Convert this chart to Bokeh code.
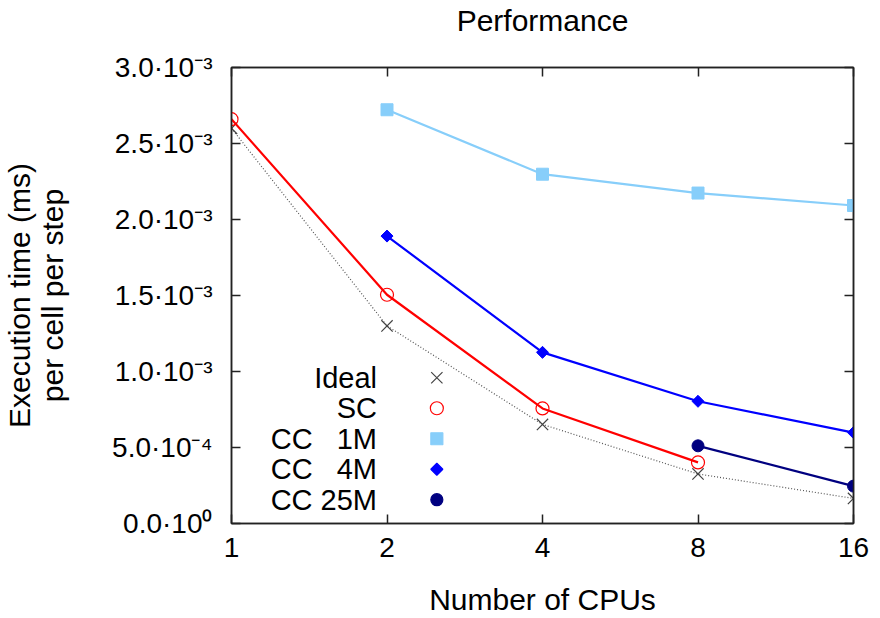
import math
from bokeh.plotting import figure
from bokeh.models import (FixedTicker, CustomJSTickFormatter, LinearAxis, LogAxis,
                          Range1d, LinearScale, ColumnDataSource)
from bokeh.embed import file_html
from bokeh.resources import INLINE

# ---------------- data ----------------
ideal_cpus = [1, 2, 4, 8, 16]
ideal = [2.60e-3, 1.30e-3, 0.652e-3, 0.326e-3, 0.165e-3]
sc_cpus = [1, 2, 4, 8]
sc = [2.66e-3, 1.505e-3, 0.757e-3, 0.402e-3]
cc1m_cpus = [2, 4, 8, 16]
cc1m = [2.722e-3, 2.298e-3, 2.174e-3, 2.092e-3]
cc4m_cpus = [2, 4, 8, 16]
cc4m = [1.891e-3, 1.126e-3, 0.804e-3, 0.598e-3]
cc25m_cpus = [8, 16]
cc25m = [0.511e-3, 0.246e-3]
series_names = ["Ideal", "SC", "CC   1M", "CC   4M", "CC 25M"]
xticks = [1, 2, 4, 8, 16]
xtick_labels = ["1", "2", "4", "8", "16"]
yticks = [0.0, 5e-4, 1e-3, 1.5e-3, 2e-3, 2.5e-3, 3e-3]
ytick_labels = ["0.0·10⁰", "5.0·10⁻⁴", "1.0·10⁻³", "1.5·10⁻³",
                "2.0·10⁻³", "2.5·10⁻³", "3.0·10⁻³"]
title_text = "Performance"

# ---------------- style ----------------
FONT = "Liberation Sans"
C_IDEAL_LINE = "#555555"
C_IDEAL = "#444444"
C_SC = "#ff0000"
C_1M = "#87cefa"
C_4M = "#0000ff"
C_25M = "#000080"

W, H = 880, 618
ML, MR, MT, MB = 229, 27, 65, 93
FW, FH = W - ML - MR, H - MT - MB

p = figure(width=W, height=H, x_axis_type="log",
           x_range=Range1d(1, 16), y_range=Range1d(0, 3e-3),
           output_backend="svg", toolbar_location=None,
           min_border_left=ML, min_border_right=MR,
           min_border_top=MT, min_border_bottom=MB)
p.xgrid.visible = False
p.ygrid.visible = False
p.outline_line_color = "#222222"
p.outline_line_width = 1.5
p.background_fill_color = "white"
p.border_fill_color = "white"

xfmt = CustomJSTickFormatter(args=dict(tks=xticks, lbls=xtick_labels), code="""
let best = 0, d = Infinity;
for (let i = 0; i < tks.length; i++) { const e = Math.abs(Math.log(tks[i]) - Math.log(tick)); if (e < d) { d = e; best = i; } }
return lbls[best];
""")
yfmt = CustomJSTickFormatter(args=dict(tks=yticks, lbls=ytick_labels), code="""
let best = 0, d = Infinity;
for (let i = 0; i < tks.length; i++) { const e = Math.abs(tks[i] - tick); if (e < d) { d = e; best = i; } }
return lbls[best];
""")
blank = CustomJSTickFormatter(code="return '';")


def style_axis(ax):
    ax.axis_line_color = "#222222"
    ax.axis_line_width = 1.5
    ax.major_tick_in = 9
    ax.major_tick_out = 0
    ax.major_tick_line_color = "#222222"
    ax.major_tick_line_width = 1.5
    ax.minor_tick_line_color = None
    ax.major_label_text_font = FONT
    ax.major_label_text_font_size = "28px"
    ax.major_label_text_color = "black"
    ax.axis_label_text_font = FONT
    ax.axis_label_text_font_size = "30px"
    ax.axis_label_text_font_style = "normal"
    ax.axis_label_text_color = "black"
    ax.axis_label_text_line_height = 1.0


xa = p.xaxis[0]
xa.ticker = FixedTicker(ticks=xticks)
xa.formatter = xfmt
style_axis(xa)
xa.major_label_standoff = 14
xa.axis_label = "Number of CPUs"
xa.axis_label_standoff = 23

ya = p.yaxis[0]
ya.ticker = FixedTicker(ticks=yticks)
ya.formatter = yfmt
style_axis(ya)
ya.major_label_standoff = 19
ya.axis_label = "Execution time (ms)\nper cell per step"
ya.axis_label_text_font_size = "30px"
ya.axis_label_text_line_height = 1.0
ya.axis_label_standoff = 40

# top axis: mirrored ticks, carries the chart title as its label
top = LogAxis(ticker=FixedTicker(ticks=xticks), formatter=blank)
style_axis(top)
top.major_label_text_font_size = "0px"
top.major_label_standoff = 0
top.axis_label = title_text
top.axis_label_text_font_size = "30px"
top.axis_label_standoff = 31
p.add_layout(top, "above")

right = LinearAxis(ticker=FixedTicker(ticks=yticks), formatter=blank)
style_axis(right)
right.major_label_text_font_size = "0px"
right.major_label_standoff = 0
p.add_layout(right, "right")

# ---------------- series ----------------
p.line(ideal_cpus, ideal, line_color=C_IDEAL_LINE, line_width=1.2, line_dash="1 2")
p.scatter(ideal_cpus, ideal, marker="x", size=16, line_color=C_IDEAL, line_width=1.2)

p.line(sc_cpus, sc, line_color=C_SC, line_width=2.2)
p.scatter(sc_cpus, sc, marker="circle", size=13, line_color=C_SC, fill_color=None, line_width=1.2)

p.line(cc1m_cpus, cc1m, line_color=C_1M, line_width=2.2)
p.scatter(cc1m_cpus, cc1m, marker="square", size=12, line_color=C_1M, fill_color=C_1M)

p.line(cc4m_cpus, cc4m, line_color=C_4M, line_width=2.2)
p.scatter(cc4m_cpus, cc4m, marker="square", size=8.5, angle=math.pi / 4,
          line_color=C_4M, fill_color=C_4M)

p.line(cc25m_cpus, cc25m, line_color=C_25M, line_width=2.2)
p.scatter(cc25m_cpus, cc25m, marker="circle", size=12, line_color=C_25M, fill_color=C_25M)

# ---------------- key (gnuplot style: text right-aligned, symbol on the right) ----------------
p.extra_x_ranges = {"key": Range1d(0, FW)}
p.extra_x_scales = {"key": LinearScale()}
p.extra_y_ranges = {"key": Range1d(0, FH)}
row_h = 30.75
n = len(series_names)
key = ColumnDataSource(dict(
    tx=[146] * n,
    mx=[206] * n,
    y=[24 + row_h * (n - 1 - i) for i in range(n)],
    text=[s.replace(" ", "\u00a0") for s in series_names],
    marker=["x", "circle", "square", "square", "circle"],
    size=[16, 13, 12, 8.5, 12],
    angle=[0, 0, 0, math.pi / 4, 0],
    lc=[C_IDEAL, C_SC, C_1M, C_4M, C_25M],
    fc=[C_IDEAL, C_SC, C_1M, C_4M, C_25M],
    fa=[0, 0, 1, 1, 1],
))
p.text(x="tx", y="y", text="text", source=key, x_range_name="key", y_range_name="key",
       text_align="right", text_baseline="middle", text_font_size="29px",
       text_color="black", text_font={"value": FONT})
p.scatter(x="mx", y="y", marker="marker", size="size", angle="angle", source=key,
          x_range_name="key", y_range_name="key", line_color="lc", fill_color="fc",
          fill_alpha="fa", line_width=1.2)

open("out.html", "w").write(file_html(p, INLINE))
